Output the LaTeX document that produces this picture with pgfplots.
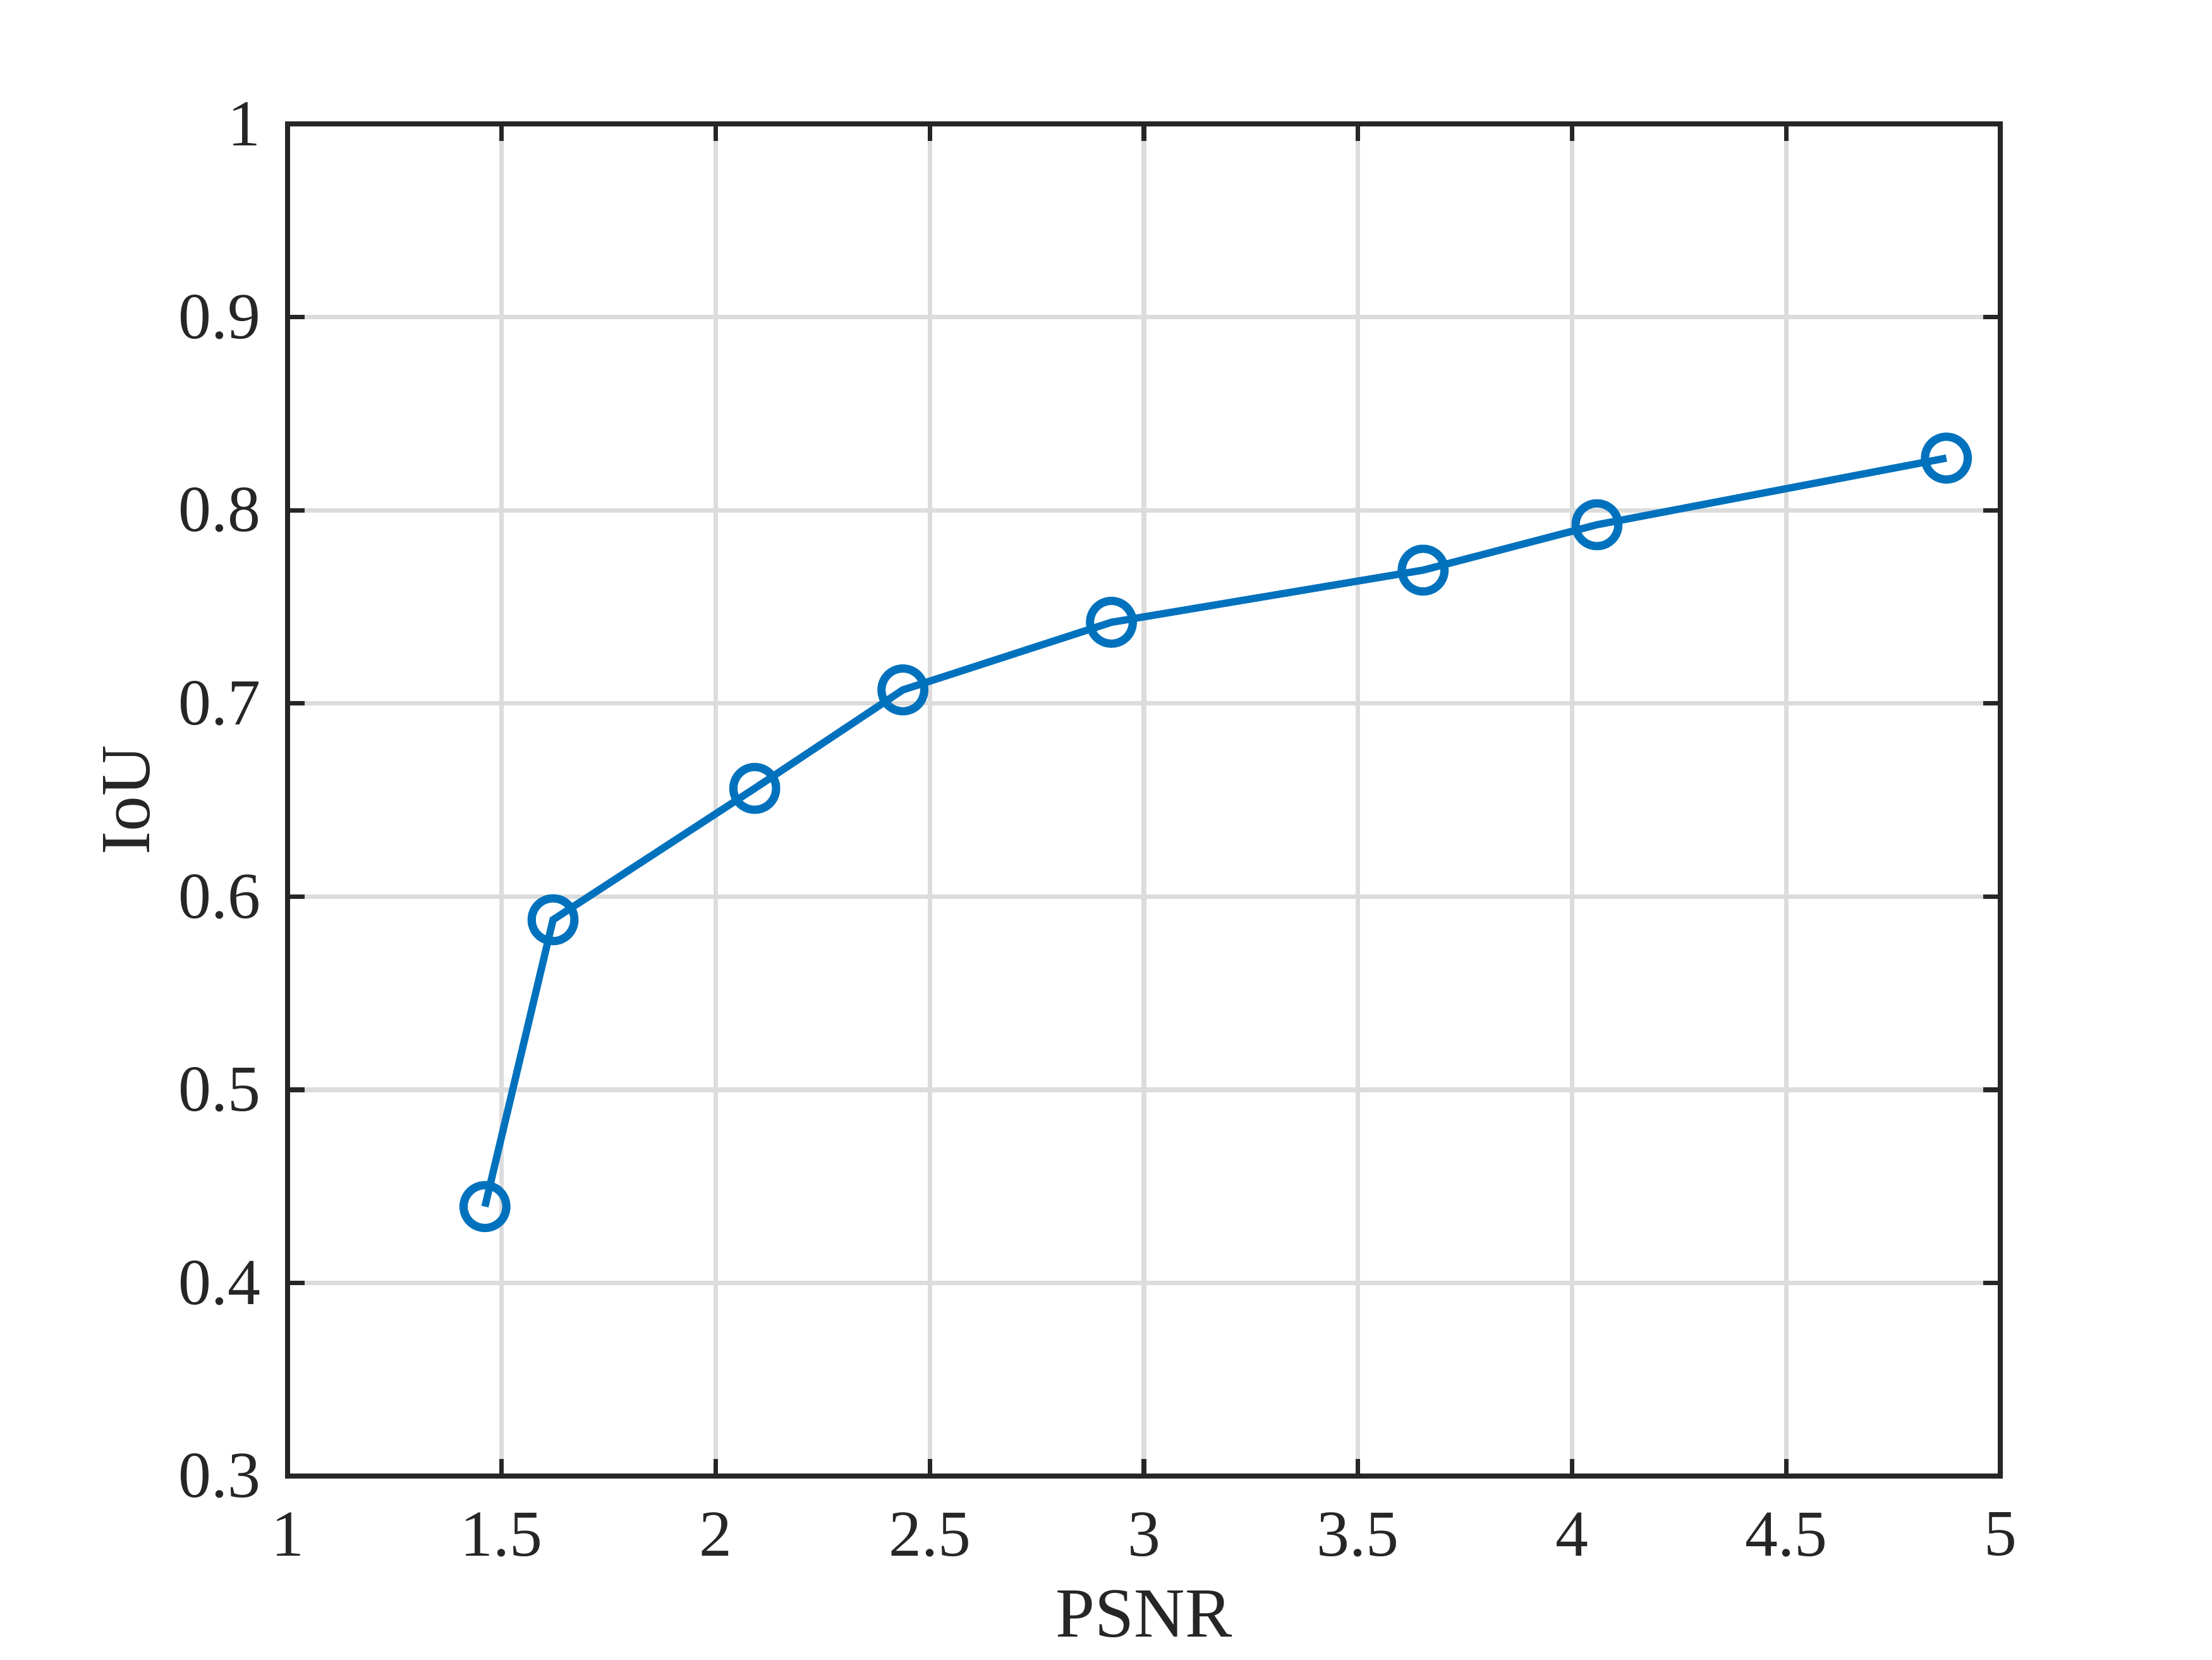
\documentclass[border=0pt]{standalone}
\usepackage{pgfplots}
\pgfplotsset{compat=1.18}
\usepackage{fontspec}
\setmainfont{Liberation Serif}
\definecolor{mblue}{RGB}{0,114,189}
\definecolor{axgray}{RGB}{38,38,38}
\definecolor{gridgray}{RGB}{220,220,220}
\begin{document}
\begin{tikzpicture}
\useasboundingbox (-2.08cm,-1.326cm) rectangle (13.92cm,10.674cm);
\begin{axis}[
  at={(0,0)}, anchor=south west,
  scale only axis,
  width=12.389cm, height=9.778cm,
  xmin=1, xmax=5, ymin=0.3, ymax=1,
  xtick={1,1.5,...,5}, ytick={0.3,0.4,...,1.0},
  xticklabels={1,1.5,2,2.5,3,3.5,4,4.5,5},
  yticklabels={0.3,0.4,0.5,0.6,0.7,0.8,0.9,1},
  grid=major,
  major grid style={gridgray, line width=0.95pt},
  axis line style={axgray, line width=0.95pt},
  tick style={axgray, line width=0.95pt},
  tick align=inside,
  major tick length=3.5pt,
  xtick pos=both, ytick pos=both,
  tick label style={font=\fontsize{13.5}{16}\selectfont, text=axgray},
  label style={font=\fontsize{14.5}{17}\selectfont, text=axgray},
  xticklabel style={yshift=-4pt},
  yticklabel style={xshift=-2pt},
  xlabel={PSNR}, ylabel={IoU},
  xlabel style={yshift=0pt},
  ylabel style={yshift=-1pt},
  /pgf/number format/assume math mode=true,
]
\addplot[mblue, line width=1.5pt, mark=o, mark size=4.4pt,
  mark options={line width=1.7pt, mblue}] coordinates {
  (1.461,0.4395)
  (1.620,0.588)
  (2.091,0.656)
  (2.437,0.707)
  (2.924,0.742)
  (3.652,0.769)
  (4.058,0.7925)
  (4.874,0.827)
};
\end{axis}
\end{tikzpicture}
\end{document}
